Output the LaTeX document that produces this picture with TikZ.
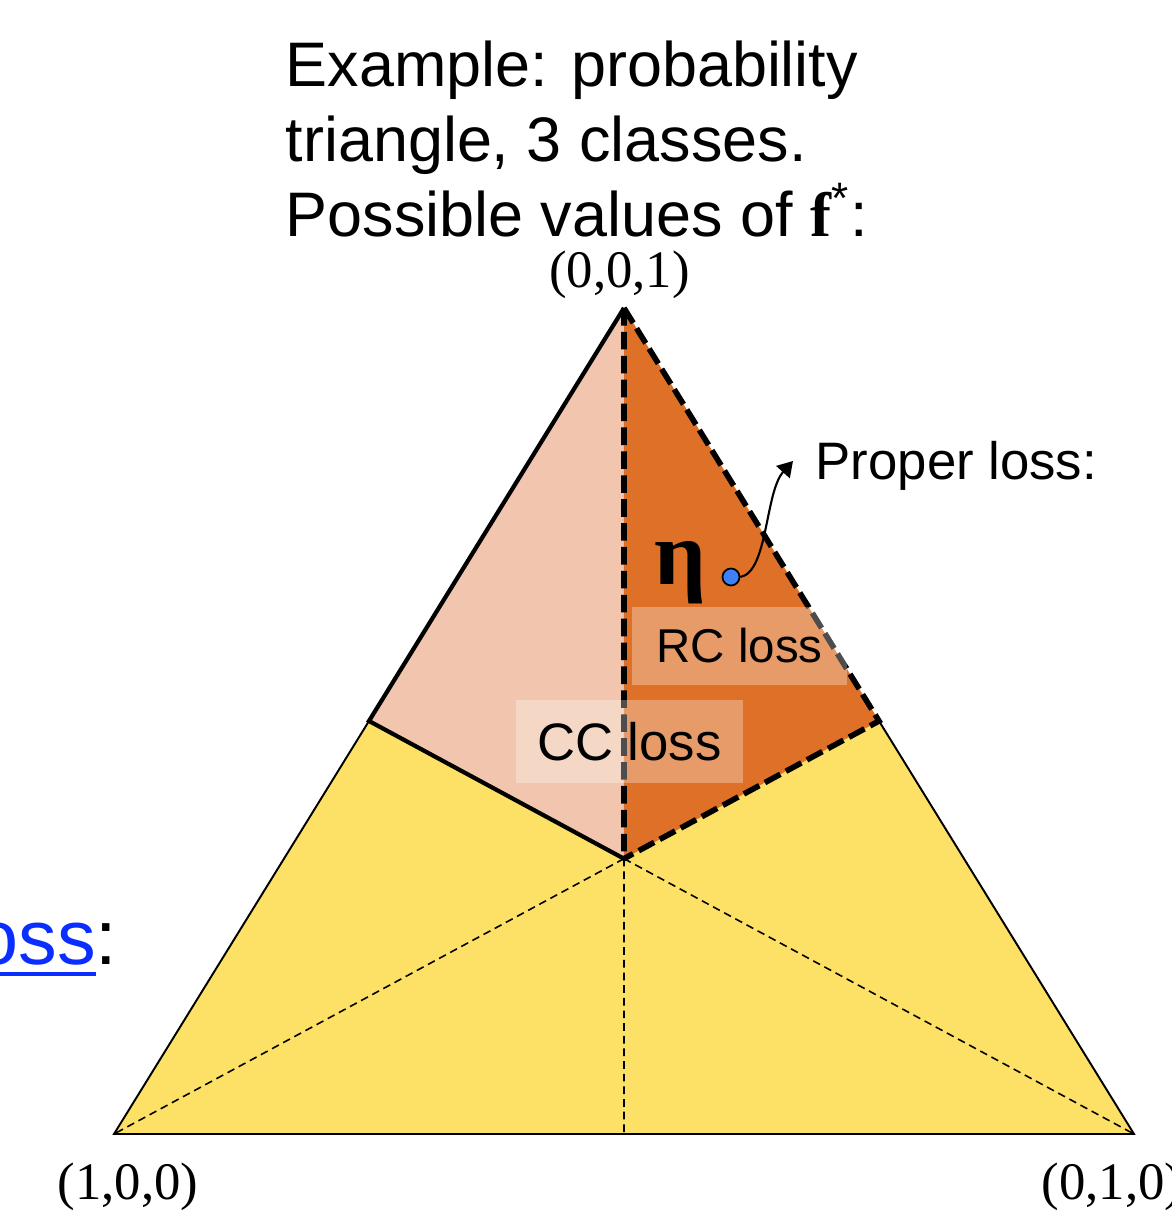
\documentclass[tikz,border=0pt]{standalone}
\usepackage{fontspec}
\setmainfont{Liberation Sans}
\newfontfamily\timesfont{Liberation Serif}
\usetikzlibrary{arrows.meta,positioning,calc}

\definecolor{regionyellow}{HTML}{FCE166}
\definecolor{regionpeach}{HTML}{F2C6AE}
\definecolor{regionorange}{HTML}{DE7028}
\definecolor{etablue}{HTML}{3F80F8}
\definecolor{linkblue}{HTML}{0A2EFF}

% hyperlink-like underlined word
\newcommand{\linkword}[1]{\textcolor{linkblue}{\setbox0\hbox{#1}\rlap{\rule[-1.1mm]{\wd0}{1.2pt}}\box0}}

\begin{document}
\begin{tikzpicture}[
    >={Triangle[length=1.5mm,width=1.8mm]},
    edge/.style={draw=black,line width=0.55pt},
    split/.style={draw=black,line width=0.45pt,dash pattern=on 2.2pt off 1.4pt},
    border/.style={draw=black,line width=1.2pt},
    dashborder/.style={draw=black,line width=1.6pt,dash pattern=on 5pt off 1.8pt},
    lossbox/.style={fill=white,fill opacity=0.3,text opacity=1,inner sep=0pt,
      font=\fontsize{15}{18}\selectfont},
    corner/.style={font=\timesfont\fontsize{15}{18}\selectfont,anchor=base,inner sep=0pt}
  ]
    \useasboundingbox (0,0) rectangle (11.72,12.17);

    % simplex corners and splitting points
    \coordinate (A) at (1.14,0.83);
    \coordinate (B) at (11.34,0.83);
    \coordinate (C) at (6.24,9.09);
    \coordinate (O) at (barycentric cs:A=1,B=1,C=1);
    \coordinate (AC) at ($(A)!0.5!(C)$);
    \coordinate (BC) at ($(B)!0.5!(C)$);
    \coordinate (AB) at ($(A)!0.5!(B)$);

    \fill[regionyellow] (A) -- (B) -- (C) -- cycle;
    \fill[regionpeach] (C) -- (AC) -- (O) -- cycle;
    \fill[regionorange] (C) -- (BC) -- (O) -- cycle;

    \draw[split] (O) -- (A);
    \draw[split] (O) -- (B);
    \draw[split] (O) -- (AB);
    \draw[edge] (AC) -- (A) -- (B) -- (BC);
    \draw[border] (C) -- (AC) -- (O);
    \draw[dashborder] (C) -- (O);
    \draw[dashborder] (C) -- (BC) -- (O);

    \node[lossbox,minimum width=2.15cm,minimum height=0.78cm,
      font=\fontsize{13.5}{16}\selectfont] (rcloss) at (7.395,5.71) {RC loss};
    \node[lossbox,minimum width=2.27cm,minimum height=0.83cm] (ccloss) at (6.295,4.755) {CC loss};

    \node[corner] (topcorner) at (6.195,9.29) {(0,0,1)};
    \node[corner] (leftcorner) at (1.28,0.18) {(1,0,0)};
    \node[corner] (rightcorner) at (11.12,0.18) {(0,1,0)};

    \node[anchor=north west,align=left,inner sep=0pt,font=\fontsize{17.9}{21.3}\selectfont]
      (title) at (2.85,11.77)
      {Example: probability\\triangle, 3 classes.\\Possible values of {\timesfont\bfseries f}\textsuperscript{*}:};

    \node[font=\timesfont\bfseries\fontsize{26}{30}\selectfont,anchor=base,inner sep=0pt]
      (etalabel) at (6.80,6.32) {η};
    \node[anchor=base west,inner sep=0pt,font=\fontsize{15}{18}\selectfont]
      (proper) at (8.15,7.37) {Proper loss:};
    \coordinate (propertip) at (7.93,7.56);
    \node[anchor=base east,inner sep=0pt,font=\fontsize{22}{26}\selectfont]
      (losslink) at (1.18,2.52) {\linkword{loss}:};

    \node[circle,fill=etablue,draw=black,line width=0.5pt,inner sep=0pt,minimum size=0.17cm]
      (eta) at (7.31,6.40) {};
    \draw[->,line width=0.6pt] (eta.east) .. controls (7.68,6.45) and (7.65,7.25) .. (propertip);
  \end{tikzpicture}
\end{document}
